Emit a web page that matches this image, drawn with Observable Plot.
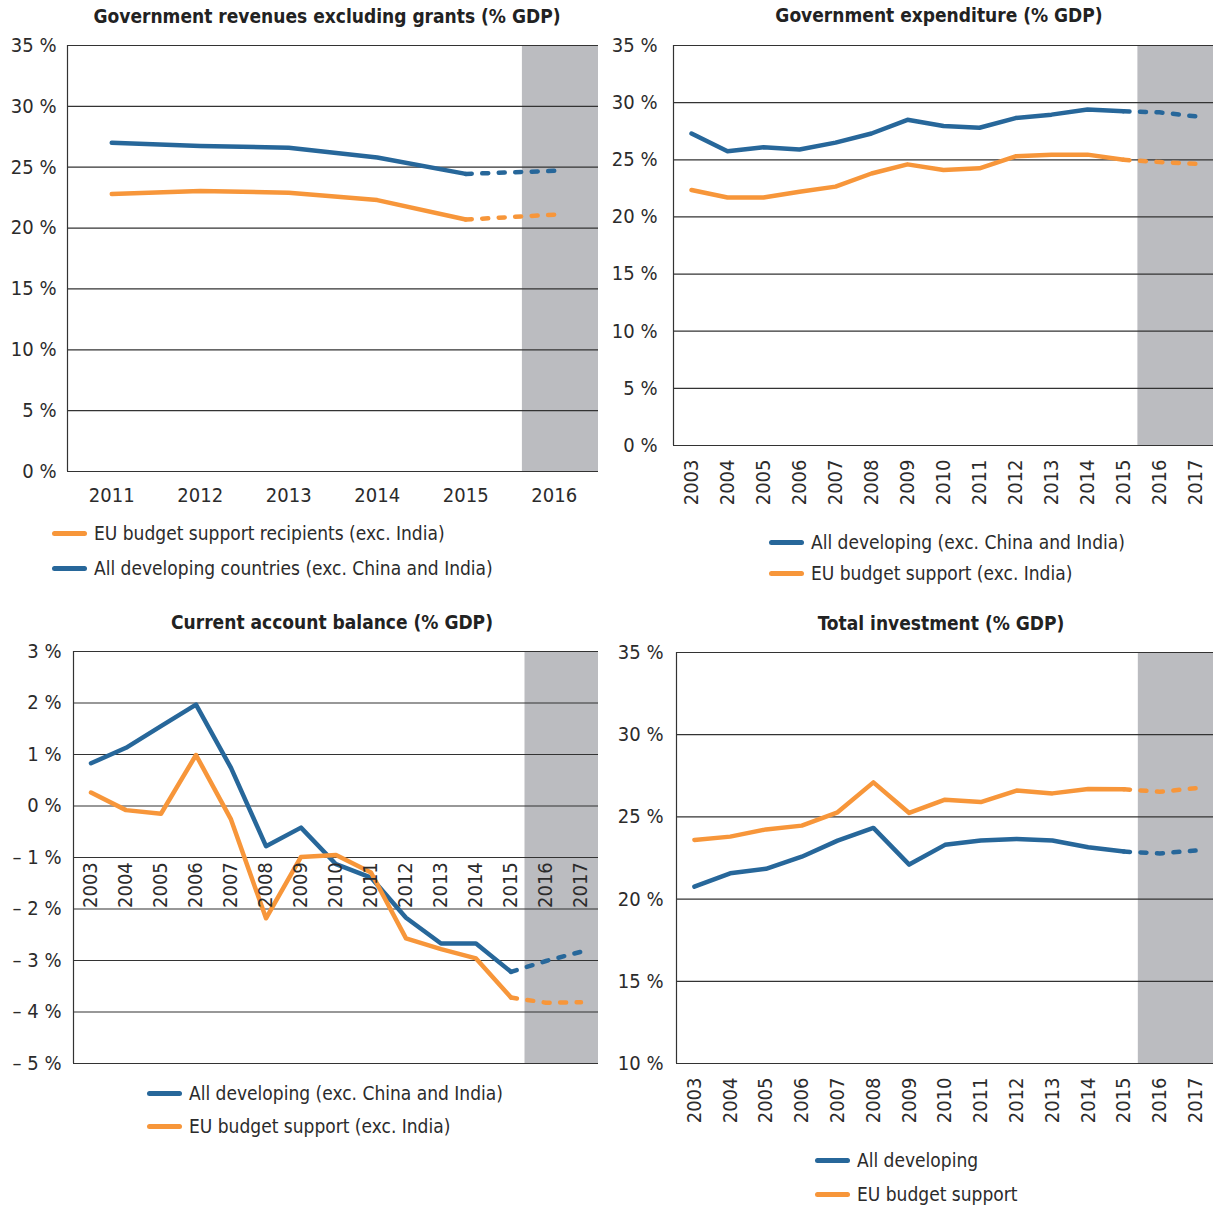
<!DOCTYPE html>
<html><head><meta charset="utf-8">
<script src="https://cdn.jsdelivr.net/npm/d3@7"></script>
<script src="https://cdn.jsdelivr.net/npm/@observablehq/plot@0.6"></script>
<style>
body{margin:0;background:#fff;font-family:"DejaVu Sans Condensed",sans-serif;color:#2b2b2b}
#root{position:relative;width:1213px;height:1207px;overflow:hidden}
.svgwrap{position:absolute}
.title{position:absolute;font-weight:bold;font-size:19px;white-space:nowrap;transform:translate(-50%,-50%);color:#222}
.legend{position:absolute;font-size:19px;white-space:nowrap}
.row{position:absolute;display:flex;align-items:center;transform:translateY(-50%)}
.sw{width:35px;height:5px;border-radius:3px;margin-right:7px}
</style></head>
<body><div id="root"></div>
<script>
const BLUE = "#27679a";
const ORANGE = "#f7963a";

// Panel 1: Government revenues excluding grants (% GDP)
const revYears = [2011, 2012, 2013, 2014, 2015, 2016];
const revAll = [27.0, 26.75, 26.6, 25.8, 24.45, 24.7];
const revEU = [22.8, 23.05, 22.9, 22.3, 20.7, 21.1];

// Shared years for panels 2-4
const years = [2003, 2004, 2005, 2006, 2007, 2008, 2009, 2010, 2011, 2012, 2013, 2014, 2015, 2016, 2017];

// Panel 2: Government expenditure (% GDP)
const expAll = [27.3, 25.75, 26.1, 25.9, 26.5, 27.3, 28.5, 27.95, 27.8, 28.65, 28.95, 29.4, 29.25, 29.15, 28.8];
const expEU = [22.35, 21.7, 21.7, 22.2, 22.65, 23.8, 24.6, 24.1, 24.25, 25.3, 25.45, 25.45, 25.0, 24.8, 24.65];

// Panel 3: Current account balance (% GDP)
const cabAll = [0.83, 1.13, 1.55, 1.97, 0.74, -0.78, -0.42, -1.13, -1.39, -2.17, -2.67, -2.67, -3.22, -3.01, -2.83];
const cabEU = [0.26, -0.08, -0.15, 0.99, -0.26, -2.18, -0.99, -0.95, -1.29, -2.57, -2.78, -2.96, -3.72, -3.82, -3.81];

// Panel 4: Total investment (% GDP)
const invAll = [20.76, 21.57, 21.84, 22.58, 23.56, 24.33, 22.1, 23.3, 23.56, 23.66, 23.56, 23.15, 22.89, 22.78, 22.95];
const invEU = [23.6, 23.8, 24.24, 24.47, 25.28, 27.1, 25.24, 26.05, 25.9, 26.6, 26.43, 26.7, 26.68, 26.53, 26.74];

const ticks35 = [0, 5, 10, 15, 20, 25, 30, 35];
const ticksCab = [3, 2, 1, 0, -1, -2, -3, -4, -5];
const ticksInv = [10, 15, 20, 25, 30, 35];
const lastActual = 2015;

const fmtPct = d => (d < 0 ? "\u2013 " + Math.abs(d) : String(d)) + " %";

const root = document.getElementById("root");

function makePanel(cfg) {
  const rows = (arr) => cfg.years.map((y, i) => ({year: y, v: arr[i]}));
  const marks = [];
  marks.push(Plot.rect([cfg.shadeFrom], {
    x1: d => d, x2: () => cfg.xDomain[1],
    y1: () => cfg.yDomain[0], y2: () => cfg.yDomain[1],
    fill: "#bbbcc0"
  }));
  marks.push(Plot.ruleY(cfg.yTicks, {stroke: "#333", strokeWidth: 1.2}));
  marks.push(Plot.ruleX([cfg.xDomain[0]], {stroke: "#333", strokeWidth: 1.2}));
  for (const [arr, color] of cfg.series) {
    const r = rows(arr);
    marks.push(Plot.line(r.filter(d => d.year <= lastActual), {
      x: "year", y: "v", stroke: color, strokeWidth: 4.5,
      strokeLinecap: "round", strokeLinejoin: "round"
    }));
    marks.push(Plot.line(r.filter(d => d.year >= lastActual), {
      x: "year", y: "v", stroke: color, strokeWidth: 4.5,
      strokeLinecap: "round", strokeDasharray: "6,10.5"
    }));
  }
  marks.push(Plot.axisY({ticks: cfg.yTicks, tickFormat: fmtPct, tickSize: 0, tickPadding: cfg.yPad, fontSize: 20, label: null}));
  if (cfg.xMode === "flat") {
    marks.push(Plot.axisX({ticks: cfg.years, tickFormat: d => String(d), tickSize: 0, tickPadding: 16, fontSize: 20, label: null}));
  } else if (cfg.xMode === "rot") {
    marks.push(Plot.axisX({ticks: cfg.years, tickFormat: d => String(d), tickSize: 0, tickPadding: 14, tickRotate: -90, fontSize: 20, label: null}));
  } else {
    marks.push(Plot.text(cfg.years, {
      x: d => d, y: () => cfg.labelY, text: d => String(d),
      rotate: -90, textAnchor: "start", lineAnchor: "middle", fontSize: 20, fill: "#2b2b2b"
    }));
  }
  const svg = Plot.plot({
    width: cfg.width, height: cfg.height,
    marginLeft: cfg.mL, marginRight: cfg.mR, marginTop: cfg.mT, marginBottom: cfg.mB,
    x: {domain: cfg.xDomain, axis: null},
    y: {domain: cfg.yDomain, axis: null},
    style: {fontFamily: "DejaVu Sans Condensed", color: "#2b2b2b", background: "none", overflow: "visible"},
    marks
  });
  const wrap = document.createElement("div");
  wrap.className = "svgwrap";
  wrap.style.left = cfg.left + "px";
  wrap.style.top = cfg.top + "px";
  wrap.appendChild(svg);
  root.appendChild(wrap);

  const t = document.createElement("div");
  t.className = "title";
  t.textContent = cfg.title;
  t.style.left = cfg.titleX + "px";
  t.style.top = cfg.titleY + "px";
  root.appendChild(t);

  cfg.legend.forEach(([label, color, x, y]) => {
    const row = document.createElement("div");
    row.className = "row legend";
    row.style.left = x + "px";
    row.style.top = y + "px";
    const sw = document.createElement("div");
    sw.className = "sw";
    sw.style.background = color;
    const tx = document.createElement("span");
    tx.textContent = label;
    row.appendChild(sw);
    row.appendChild(tx);
    root.appendChild(row);
  });
}

makePanel({
  title: "Government revenues excluding grants (% GDP)", titleX: 327, titleY: 16,
  left: 0, top: 0, width: 606, height: 520, mL: 67, mR: 8, mT: 45, mB: 49,
  years: revYears, xDomain: [2010.5, 2016.5], yDomain: [0, 35], yTicks: ticks35, yPad: 11,
  shadeFrom: 2015.64, xMode: "flat",
  series: [[revAll, BLUE], [revEU, ORANGE]],
  legend: [["EU budget support recipients (exc. India)", ORANGE, 52, 533],
           ["All developing countries (exc. China and India)", BLUE, 52, 568]]
});

makePanel({
  title: "Government expenditure (% GDP)", titleX: 939, titleY: 15,
  left: 606, top: 0, width: 607, height: 520, mL: 67, mR: 0, mT: 45, mB: 75,
  years: years, xDomain: [2002.5, 2017.5], yDomain: [0, 35], yTicks: ticks35, yPad: 16,
  shadeFrom: 2015.4, xMode: "rot",
  series: [[expAll, BLUE], [expEU, ORANGE]],
  legend: [["All developing (exc. China and India)", BLUE, 769, 542],
           ["EU budget support (exc. India)", ORANGE, 769, 573]]
});

makePanel({
  title: "Current account balance (% GDP)", titleX: 332, titleY: 622,
  left: 0, top: 600, width: 606, height: 480, mL: 73, mR: 8, mT: 51, mB: 17,
  years: years, xDomain: [2002.5, 2017.5], yDomain: [-5, 3], yTicks: ticksCab, yPad: 12,
  shadeFrom: 2015.4, xMode: "inside", labelY: -1.98,
  series: [[cabAll, BLUE], [cabEU, ORANGE]],
  legend: [["All developing (exc. China and India)", BLUE, 147, 1093],
           ["EU budget support (exc. India)", ORANGE, 147, 1126]]
});

makePanel({
  title: "Total investment (% GDP)", titleX: 941, titleY: 623,
  left: 606, top: 600, width: 607, height: 540, mL: 70, mR: 0, mT: 52, mB: 77,
  years: years, xDomain: [2002.5, 2017.5], yDomain: [10, 35], yTicks: ticksInv, yPad: 13,
  shadeFrom: 2015.4, xMode: "rot",
  series: [[invAll, BLUE], [invEU, ORANGE]],
  legend: [["All developing", BLUE, 815, 1160],
           ["EU budget support", ORANGE, 815, 1194]]
});
</script>
</body></html>
